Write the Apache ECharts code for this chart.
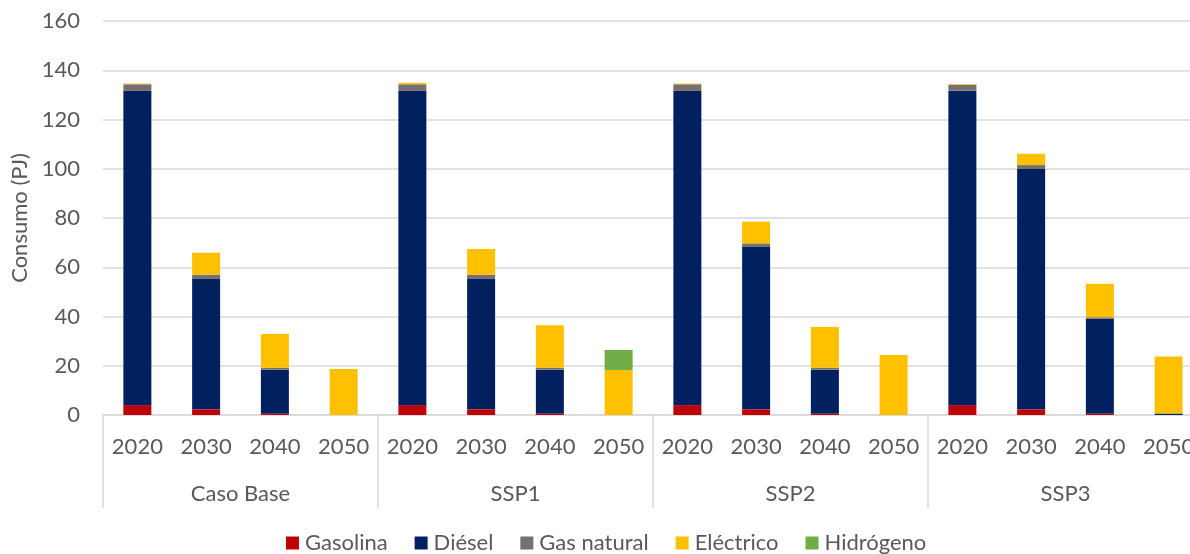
<!DOCTYPE html>
<html>
<head>
<meta charset="utf-8">
<script src="https://cdn.jsdelivr.net/npm/echarts@6/dist/echarts.min.js"></script>
<style>
  html, body { margin: 0; padding: 0; background: #fff; }
  #chart { width: 1190px; height: 554px; }
</style>
</head>
<body>
<div id="chart"></div>
<script>
// Energy consumption of freight transport by fuel, scenario and year (PJ)
const years = ['2020', '2030', '2040', '2050'];
const scenarios = ['Caso Base', 'SSP1', 'SSP2', 'SSP3'];
const yTicks = [0, 20, 40, 60, 80, 100, 120, 140, 160];

const gasolina  = [4.0, 2.3, 0.5, 0,   4.0, 2.3, 0.5, 0,    4.0, 2.3, 0.5, 0,    4.0, 2.3, 0.5, 0];
const diesel    = [127.6, 52.9, 17.9, 0, 127.6, 52.9, 17.9, 0, 127.6, 65.9, 17.9, 0, 127.7, 97.6, 38.6, 0.6];
const gasNatural= [2.7, 1.8, 0.8, 0,   2.7, 1.8, 0.8, 0,    2.7, 1.5, 0.8, 0,    2.4, 1.6, 0.6, 0];
const electrico = [0.3, 8.9, 13.7, 18.7, 0.6, 10.4, 17.2, 18.3, 0.3, 8.8, 16.5, 24.4, 0.3, 4.6, 13.6, 23.2];
const hidrogeno = [0, 0, 0, 0,        0, 0, 0, 8.1,        0, 0, 0, 0,          0, 0, 0, 0];

const fuelNames  = ['Gasolina', 'Diésel', 'Gas natural', 'Eléctrico', 'Hidrógeno'];
const fuelValues = [gasolina, diesel, gasNatural, electrico, hidrogeno];
const fuelColors = ['#C00000', '#002060', '#767171', '#FFC000', '#70AD47'];

const categories = [];
scenarios.forEach(() => years.forEach(y => categories.push(y)));

const FONT = 'Lato, "Liberation Sans", Arial, sans-serif';
const TXT = '#595959';
const FS = 22;

const chart = echarts.init(document.getElementById('chart'), null, { renderer: 'canvas' });
chart.setOption({
  animation: false,
  textStyle: { fontFamily: FONT, color: TXT },
  grid: { left: 103, top: 21, width: 1100, height: 394, containLabel: false, outerBoundsMode: 'none' },
  legend: {
    bottom: -5,
    left: 281,
    itemWidth: 13,
    itemHeight: 13,
    itemGap: 27,
    icon: 'rect',
    textStyle: { fontSize: FS, color: TXT, fontFamily: FONT, padding: [0, 0, 0, 1] },
    data: fuelNames
  },
  xAxis: [
    {
      type: 'category',
      data: categories,
      axisLine: { show: true, lineStyle: { color: '#D9D9D9', width: 1.5 } },
      axisTick: { show: false },
      axisLabel: { interval: 0, fontSize: FS, color: TXT, margin: 21 }
    },
    {
      type: 'category',
      data: scenarios,
      position: 'bottom',
      axisLine: { show: false },
      axisTick: { show: true, alignWithLabel: false, length: 93, lineStyle: { color: '#D9D9D9', width: 1.5 } },
      axisLabel: { interval: 0, fontSize: FS, color: TXT, margin: 68 },
      splitLine: { show: false }
    }
  ],
  yAxis: {
    type: 'value',
    min: yTicks[0],
    max: yTicks[yTicks.length - 1],
    interval: 20,
    name: 'Consumo (PJ)',
    nameLocation: 'middle',
    nameGap: 70,
    nameTextStyle: { fontSize: FS, color: TXT },
    axisLine: { show: false },
    axisTick: { show: false },
    axisLabel: { fontSize: FS, color: TXT, margin: 23 },
    splitLine: { lineStyle: { color: '#D9D9D9', width: 1.5 } }
  },
  series: fuelNames.map((name, i) => ({
    name,
    type: 'bar',
    stack: 'total',
    xAxisIndex: 0,
    barWidth: 28,
    itemStyle: { color: fuelColors[i] },
    data: fuelValues[i]
  }))
});
</script>
</body>
</html>
